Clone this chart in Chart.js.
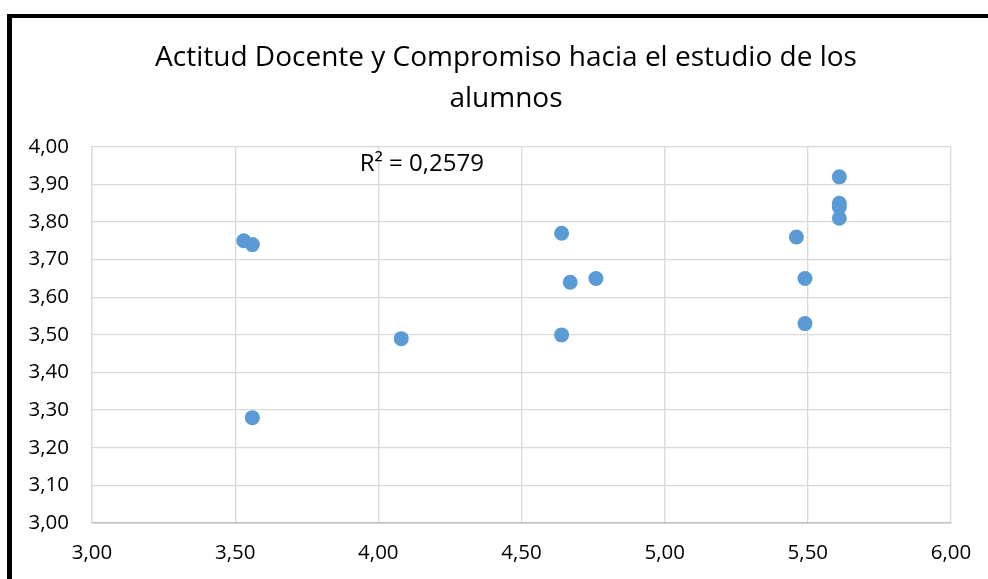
<!DOCTYPE html>
<html>
<head>
<meta charset="utf-8">
<script src="https://cdn.jsdelivr.net/npm/chart.js@4.4.1/dist/chart.umd.min.js"></script>
<style>
  html, body { margin: 0; padding: 0; background: #fff; }
  #wrap { position: relative; width: 988px; height: 579px; overflow: hidden; }
  #frame {
    position: absolute; left: 7px; top: 14px; right: -10px; bottom: -10px;
    border-left: 5px solid #000; border-top: 4px solid #000;
  }
  #chart { position: absolute; left: 0; top: 0; }
</style>
</head>
<body>
<div id="wrap">
  <div id="frame"></div>
  <canvas id="chart" width="1012" height="579"></canvas>
</div>
<script>
// Actitud docente (x) vs compromiso hacia el estudio (y)
const actitudDocente = [3.53, 3.56, 3.56, 4.08, 4.64, 4.67, 4.76, 4.64, 5.46, 5.49, 5.49, 5.61, 5.61, 5.61, 5.61];
const compromiso     = [3.75, 3.74, 3.28, 3.49, 3.77, 3.64, 3.65, 3.50, 3.76, 3.65, 3.53, 3.92, 3.85, 3.84, 3.81];

const titleLines = ['Actitud Docente y Compromiso hacia el estudio de los', 'alumnos'];
const rSquaredLabel = 'R² = 0,2579';

const points = actitudDocente.map((x, i) => ({ x: x, y: compromiso[i] }));

const fmt = v => v.toFixed(2).replace('.', ',');

// draws the R² text like the Excel trendline label
const r2Label = {
  id: 'r2Label',
  afterDatasetsDraw(chart) {
    const { ctx, scales } = chart;
    ctx.save();
    ctx.font = '24px "Open Sans"';
    ctx.fillStyle = '#000';
    ctx.textAlign = 'left';
    ctx.textBaseline = 'middle';
    ctx.fillText(rSquaredLabel, scales.x.getPixelForValue(3.935), scales.y.getPixelForValue(3.955));
    ctx.restore();
  }
};

new Chart(document.getElementById('chart'), {
  type: 'scatter',
  data: {
    datasets: [{
      data: points,
      backgroundColor: '#5B9BD5',
      borderWidth: 0,
      pointRadius: 7.5,
      pointHoverRadius: 7.5
    }]
  },
  options: {
    responsive: false,
    animation: false,
    layout: { padding: 0 },
    plugins: {
      legend: { display: false },
      tooltip: { enabled: false },
      title: {
        display: true,
        text: titleLines,
        color: '#000',
        font: { family: '"Open Sans"', size: 28, weight: 'normal', lineHeight: 1.46 },
        padding: { top: 38, bottom: 27 }
      }
    },
    scales: {
      x: {
        type: 'linear',
        min: 3, max: 6,
        afterFit: s => { s.height = 56; },
        ticks: { stepSize: 0.5, padding: 18, color: '#000', font: { family: '"Open Sans"', size: 20.5 }, callback: fmt },
        grid: { color: '#D9D9D9', lineWidth: 1.3, drawTicks: false },
        border: { color: '#BFBFBF', width: 1.5 }
      },
      y: {
        min: 3, max: 4,
        afterFit: s => { s.width = 92; },
        ticks: { stepSize: 0.1, padding: 23, color: '#000', font: { family: '"Open Sans"', size: 20.5 }, callback: fmt },
        grid: { color: '#D9D9D9', lineWidth: 1.3, drawTicks: false },
        border: { color: '#D9D9D9', width: 1.3 }
      },
      // empty right axis, only reserves room so the title centres like the original
      yRight: {
        position: 'right',
        display: true,
        min: 3, max: 4,
        afterFit: s => { s.width = 61; },
        ticks: { display: false },
        grid: { display: false, drawTicks: false },
        border: { display: false }
      }
    }
  },
  plugins: [r2Label]
});
</script>
</body>
</html>
